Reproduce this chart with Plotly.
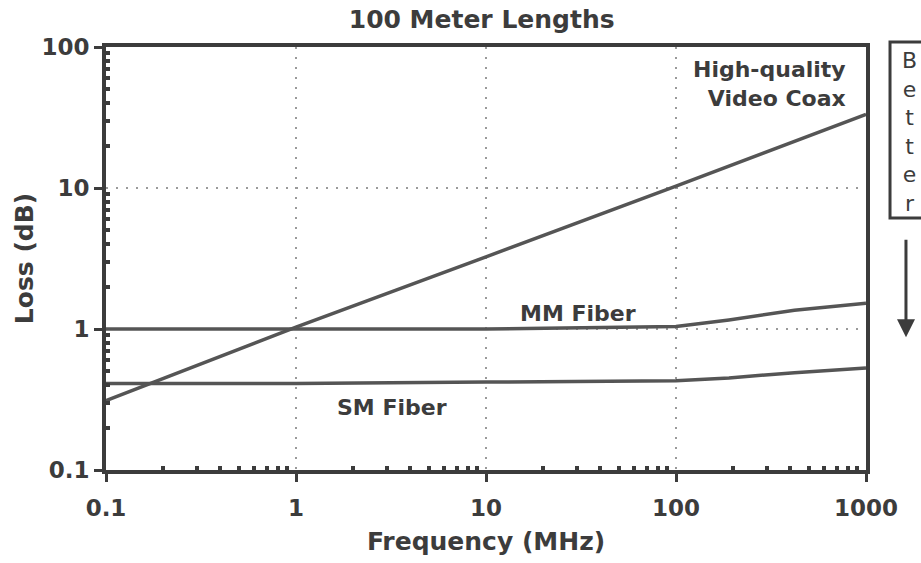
import plotly.graph_objects as go

# Attenuation over a 100 m run, loss in dB versus frequency in MHz
coax_freq = [0.1, 1, 10, 100, 1000]
coax_loss = [0.31, 1.03, 3.25, 10.3, 33.3]

mm_freq = [0.1, 1, 10, 100, 190, 420, 1000]
mm_loss = [1.0, 1.0, 1.0, 1.04, 1.16, 1.36, 1.52]

sm_freq = [0.1, 1, 10, 100, 190, 420, 1000]
sm_loss = [0.41, 0.41, 0.42, 0.43, 0.45, 0.49, 0.53]

x_tickvals = [0.1, 1, 10, 100, 1000]
x_ticktext = ["0.1", "1", "10", "100", "1000"]
y_tickvals = [0.1, 1, 10, 100]
y_ticktext = ["0.1", "1", "10", "100"]

INK = "#3c3c3c"
LINE = "#555555"
GRID = "#9a9a9a"
BOLD = "DejaVu Sans"


def decade_minors(decades):
    """2..9 subdivisions inside each listed decade start."""
    return [d * k for d in decades for k in range(2, 10)]


fig = go.Figure()
for fx, fy in [(coax_freq, coax_loss), (mm_freq, mm_loss), (sm_freq, sm_loss)]:
    fig.add_trace(go.Scatter(x=fx, y=fy, mode="lines",
                             line=dict(color=LINE, width=3.5),
                             showlegend=False, hoverinfo="skip"))

axis_common = dict(
    type="log",
    showline=True, linewidth=4, linecolor=INK, mirror=True,
    showgrid=True, gridcolor=GRID, gridwidth=1.5, griddash="2px,8px",
    ticks="outside", ticklen=8, tickwidth=2.5, tickcolor=INK,
    zeroline=False,
    tickfont=dict(family=BOLD, size=23, color=INK, weight="bold"),
)
minor_common = dict(tickmode="array", ticks="inside", ticklen=4, tickwidth=4,
                    tickcolor=INK, showgrid=False)

fig.update_xaxes(
    range=[-1, 3], tickmode="array", tickvals=x_tickvals, ticktext=x_ticktext,
    ticklabelstandoff=6,
    minor=dict(tickvals=decade_minors(x_tickvals[:-1]), **minor_common),
    title=dict(text="<b>Frequency (MHz)</b>", standoff=14,
               font=dict(family=BOLD, size=25, color=INK)),
    **axis_common,
)
fig.update_yaxes(
    range=[-1, 2], tickmode="array", tickvals=y_tickvals, ticktext=y_ticktext,
    minor=dict(tickvals=decade_minors(y_tickvals[:-1]), **minor_common),
    title=dict(text="<b>Loss (dB)</b>", standoff=2,
               font=dict(family=BOLD, size=25, color=INK)),
    **axis_common,
)

label_font = dict(family=BOLD, size=22, color=INK)
fig.add_annotation(x=2.905, y=1.741, xref="x", yref="y",
                   text="<b>High-quality<br>Video Coax</b>", showarrow=False,
                   xanchor="right", yanchor="middle", align="right", font=label_font)
fig.add_annotation(x=1.486, y=0.113, xref="x", yref="y", text="<b>MM Fiber</b>",
                   showarrow=False, xanchor="center", yanchor="middle", font=label_font)
fig.add_annotation(x=0.504, y=-0.560, xref="x", yref="y", text="<b>SM Fiber</b>",
                   showarrow=False, xanchor="center", yanchor="middle", font=label_font)

# "Better" legend box with downward arrow at the right edge
fig.add_shape(type="rect", xref="paper", yref="paper",
              x0=1.0316, x1=1.09, y0=0.596, y1=1.012,
              line=dict(color=INK, width=3), fillcolor="rgba(0,0,0,0)")
fig.add_annotation(x=1.057, y=0.80, xref="paper", yref="paper",
                   text="B<br>e<br>t<br>t<br>e<br>r", showarrow=False,
                   xanchor="center", yanchor="middle",
                   font=dict(family="DejaVu Sans", size=22, color=INK))
fig.add_annotation(x=1.0526, y=0.314, xref="paper", yref="paper", text="",
                   showarrow=True, ax=0, ay=-99, arrowhead=2, arrowsize=1.2,
                   arrowwidth=3, arrowcolor=INK)

fig.update_layout(
    width=921, height=563,
    margin=dict(l=106, r=55, t=47, b=93),
    paper_bgcolor="white", plot_bgcolor="white",
    title=dict(text="<b>100 Meter Lengths</b>", x=0.523, xanchor="center",
               y=0.966, yanchor="middle",
               font=dict(family=BOLD, size=25, color=INK)),
)

fig.write_html("out.html")
